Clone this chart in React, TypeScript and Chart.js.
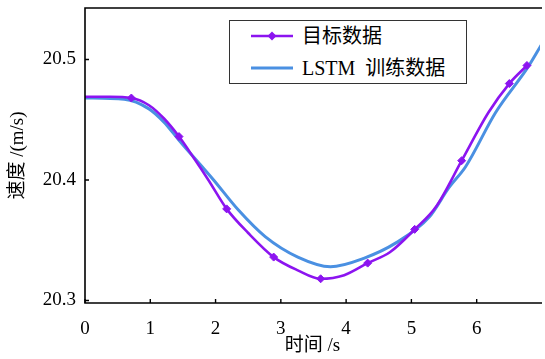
import React, { useEffect, useRef } from "react";
import { Chart, registerables } from "chart.js";

Chart.register(...registerables);

// ---- data ----
const seriesNames = ["目标数据", "LSTM 训练数据"];
const seriesColors = ["#8c14f0", "#4a90e2"];

const targetTime = [0, 0.38, 0.71, 0.98, 1.21, 1.44, 1.67, 1.89, 2.17, 2.5, 2.89, 3.26, 3.61, 3.97, 4.33, 4.67, 5.05, 5.38, 5.77, 6.18, 6.5, 6.77];
const targetSpeed = [20.469, 20.469, 20.468, 20.462, 20.451, 20.436, 20.418, 20.4, 20.376, 20.356, 20.336, 20.325, 20.318, 20.321, 20.331, 20.34, 20.359, 20.378, 20.416, 20.456, 20.48, 20.495];
const markerTimes = [0.71, 1.44, 2.17, 2.89, 3.61, 4.33, 5.05, 5.77, 6.5, 6.77];

const lstmTime = [0, 0.6, 0.98, 1.21, 1.44, 1.97, 2.35, 2.76, 3.26, 3.76, 4.27, 4.77, 5.27, 5.58, 5.83, 6.29, 6.79, 7.0];
const lstmSpeed = [20.468, 20.467, 20.459, 20.448, 20.433, 20.4, 20.375, 20.353, 20.336, 20.328, 20.335, 20.348, 20.369, 20.394, 20.411, 20.456, 20.494, 20.513];

const xTicks = [0, 1, 2, 3, 4, 5, 6];
const yTicks = [20.3, 20.4, 20.5];
const xRange = [0, 6.97];
const yRange = [20.2979, 20.5427];
const xTitle = "时间 /s";
const yTitle = "速度 /(m/s)";

const FONT = "'Liberation Serif', 'Noto Sans CJK SC', serif";

const framePlugin = {
  id: "frame",
  afterDraw(chart: any) {
    const { ctx, chartArea, scales } = chart;
    const { left, right, top, bottom } = chartArea;
    ctx.save();
    ctx.strokeStyle = "#000";
    ctx.lineWidth = 1.6;
    ctx.beginPath();
    ctx.moveTo(right + 2, top);
    ctx.lineTo(left, top);
    ctx.lineTo(left, bottom);
    ctx.lineTo(right + 2, bottom);
    ctx.stroke();
    ctx.lineWidth = 1.4;
    ctx.beginPath();
    xTicks.forEach((v) => {
      const px = scales.x.getPixelForValue(v);
      ctx.moveTo(px, bottom);
      ctx.lineTo(px, bottom - 4);
    });
    yTicks.forEach((v) => {
      const py = scales.y.getPixelForValue(v);
      ctx.moveTo(left, py);
      ctx.lineTo(left + 4, py);
    });
    ctx.stroke();
    ctx.restore();
  },
};

export default function App() {
  const canvasRef = useRef<HTMLCanvasElement | null>(null);

  useEffect(() => {
    if (!canvasRef.current) return;
    const chart = new Chart(canvasRef.current, {
      type: "line",
      data: {
        datasets: [
          {
            label: seriesNames[0],
            data: targetTime.map((t, i) => ({ x: t, y: targetSpeed[i] })),
            borderColor: seriesColors[0],
            backgroundColor: seriesColors[0],
            borderWidth: 2.6,
            cubicInterpolationMode: "monotone",
            pointStyle: "rectRot",
            pointRadius: targetTime.map((t) => (markerTimes.includes(t) ? 4 : 0)),
            pointBorderWidth: 1,
          },
          {
            label: seriesNames[1],
            data: lstmTime.map((t, i) => ({ x: t, y: lstmSpeed[i] })),
            borderColor: seriesColors[1],
            backgroundColor: seriesColors[1],
            borderWidth: 3,
            cubicInterpolationMode: "monotone",
            pointRadius: 0,
          },
        ],
      },
      options: {
        animation: false,
        responsive: false,
        events: [],
        layout: { padding: { top: 8, left: 0, right: 0, bottom: 0 } },
        plugins: { legend: { display: false }, tooltip: { enabled: false } },
        scales: {
          x: {
            type: "linear",
            min: xRange[0],
            max: xRange[1],
            grid: { display: false, drawTicks: false },
            border: { display: false },
            afterBuildTicks: (s: any) => {
              s.ticks = xTicks.map((v) => ({ value: v }));
            },
            afterFit: (s: any) => {
              s.height = 56;
              s.paddingLeft = 0;
              s.paddingRight = 0;
            },
            ticks: {
              color: "#000",
              padding: 15,
              maxRotation: 0,
              font: { family: FONT, size: 19 },
              callback: (v: any) => String(v),
            },
            title: {
              display: true,
              text: xTitle,
              color: "#000",
              font: { family: FONT, size: 19 },
              padding: { top: 0, bottom: 2 },
            },
          },
          y: {
            type: "linear",
            min: yRange[0],
            max: yRange[1],
            grid: { display: false, drawTicks: false },
            border: { display: false },
            afterBuildTicks: (s: any) => {
              s.ticks = yTicks.map((v) => ({ value: v }));
            },
            afterFit: (s: any) => {
              s.width = 85;
              s.paddingTop = 0;
              s.paddingBottom = 0;
            },
            ticks: {
              color: "#000",
              padding: 9,
              font: { family: FONT, size: 19 },
              callback: (v: any) => Number(v).toFixed(1),
            },
            title: {
              display: true,
              text: yTitle,
              color: "#000",
              font: { family: FONT, size: 19 },
              padding: { top: 7, bottom: 0 },
            },
          },
        },
      },
      plugins: [framePlugin],
    });
    return () => chart.destroy();
  }, []);

  const rowStyle = (top: number): React.CSSProperties => ({
    position: "absolute",
    left: 0,
    top,
    height: 24,
    width: "100%",
  });

  return (
    <div style={{ position: "absolute", left: 0, top: 0, width: 545, height: 359, background: "#fff", overflow: "hidden" }}>
      <canvas ref={canvasRef} width={545} height={359} style={{ width: 545, height: 359, display: "block" }} />
      <div
        style={{
          position: "absolute",
          left: 229,
          top: 20,
          width: 238,
          height: 64,
          boxSizing: "border-box",
          border: "1.5px solid #333",
          background: "#fff",
          fontFamily: FONT,
          fontSize: 20,
          color: "#000",
        }}
      >
        {seriesNames.map((name, i) => (
          <div key={name} style={rowStyle(i === 0 ? 3 : 35)}>
            <svg width={44} height={24} style={{ position: "absolute", left: 20, top: 0 }}>
              <line x1={1} y1={12} x2={43} y2={12} stroke={seriesColors[i]} strokeWidth={i === 0 ? 2.6 : 3} />
              {i === 0 && <polygon points="22,7.5 26.5,12 22,16.5 17.5,12" fill={seriesColors[i]} />}
            </svg>
            <span style={{ position: "absolute", left: 72, top: 0, lineHeight: "24px", whiteSpace: "pre", wordSpacing: 5 }}>
              {name}
            </span>
          </div>
        ))}
      </div>
    </div>
  );
}
